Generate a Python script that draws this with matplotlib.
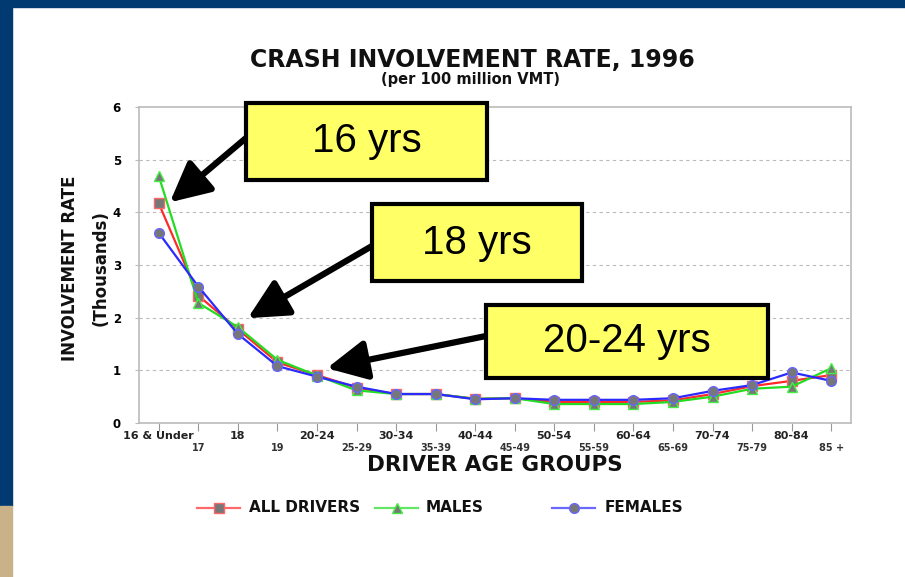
import matplotlib.pyplot as plt
from matplotlib.patches import Rectangle
from matplotlib.lines import Line2D

plt.rcParams['font.family'] = ['DejaVu Sans']

ages = ["16 & Under", "17", "18", "19", "20-24", "25-29", "30-34", "35-39",
        "40-44", "45-49", "50-54", "55-59", "60-64", "65-69", "70-74",
        "75-79", "80-84", "85 +"]
all_drivers = [4.17, 2.42, 1.78, 1.15, 0.91, 0.67, 0.55, 0.55, 0.46, 0.47,
               0.40, 0.40, 0.40, 0.43, 0.55, 0.70, 0.80, 0.91]
males = [4.69, 2.28, 1.82, 1.20, 0.90, 0.62, 0.55, 0.55, 0.46, 0.47,
         0.36, 0.36, 0.36, 0.40, 0.50, 0.65, 0.69, 1.04]
females = [3.61, 2.59, 1.69, 1.08, 0.88, 0.69, 0.55, 0.55, 0.45, 0.47,
           0.44, 0.44, 0.44, 0.47, 0.61, 0.72, 0.96, 0.80]
series_names = ["ALL DRIVERS", "MALES", "FEMALES"]

W, H = 905, 577


def fx(x):
    return x / W


def fy(y):
    return 1 - y / H


fig = plt.figure(figsize=(9.05, 5.77), dpi=100)
fig.patch.set_facecolor("white")

# slide decoration
fig.patches.append(Rectangle((0, fy(7)), 1, 7 / H, transform=fig.transFigure,
                             color="#003A70", zorder=0))
fig.patches.append(Rectangle((0, fy(506)), 12 / W, (506 - 7) / H,
                             transform=fig.transFigure, color="#003A70", zorder=0))
fig.patches.append(Rectangle((0, 0), 12 / W, (577 - 506) / H,
                             transform=fig.transFigure, color="#C9B189", zorder=0))

ax = fig.add_axes([fx(139), fy(423), (851 - 139) / W, (423 - 107) / H])
x = range(len(ages))
styles = [
    (all_drivers, "#FF2A2A", "s", "#FF6666"),
    (males, "#22DD22", "^", "#44EE44"),
    (females, "#2A2AFF", "o", "#6666FF"),
]
for vals, c, m, ec in styles:
    ax.plot(x, vals, color=c, lw=1.6, marker=m, ms=7, mfc="#777777",
            mec=ec, mew=1, zorder=3)

ax.set_xlim(-0.5, len(ages) - 0.5)
ax.set_ylim(0, 6)
ax.set_yticks(range(7))
ax.set_yticklabels([str(i) for i in range(7)], fontsize=8.5, fontweight="bold")
for v in range(1, 6):
    ax.axhline(v, color="#BBBBBB", lw=0.8, ls=(0, (3, 3)), zorder=1)
for s in ax.spines.values():
    s.set_color("#BBBBBB")
    s.set_linewidth(1.2)
ax.tick_params(axis="y", length=3, color="#BBBBBB", pad=10)

ax.set_xticks(list(x))
ax.set_xticklabels([])
ax.tick_params(axis="x", length=6, color="#999999")
tr = ax.get_xaxis_transform()
for i, lab in enumerate(ages):
    if i % 2 == 0:
        ax.text(i, -0.041, lab, ha="center", va="center", fontsize=8,
                transform=tr, fontweight="bold", color="#222222")
    else:
        ax.text(i, -0.079, lab, ha="center", va="center", fontsize=7,
                transform=tr, fontweight="bold", color="#333333")

fig.text(fx(495), fy(465), "DRIVER AGE GROUPS", ha="center", va="center",
         fontsize=15.5, fontweight="bold", color="#111111")
fig.text(fx(70), fy(268), "INVOLVEMENT RATE", ha="center", va="center",
         rotation=90, fontsize=12, fontweight="bold", color="#111111")
fig.text(fx(101), fy(268), "(Thousands)", ha="center", va="center",
         rotation=90, fontsize=12, fontweight="bold", color="#111111")

fig.text(fx(472), fy(60), "CRASH INVOLVEMENT RATE, 1996", ha="center",
         va="center", fontsize=17, fontweight="bold", color="#111111")
fig.text(fx(470), fy(80), "(per 100 million VMT)", ha="center", va="center",
         fontsize=10.5, fontweight="bold", color="#111111")

# legend
leg_items = [(197, 240, 249), (375, 418, 426), (552, 595, 605)]
for (l0, l1, tx), (vals, c, m, ec), name in zip(leg_items, styles, series_names):
    fig.add_artist(Line2D([fx(l0), fx(l1)], [fy(508), fy(508)], color=c,
                          lw=1.6, alpha=0.7, transform=fig.transFigure))
    fig.add_artist(Line2D([fx((l0 + l1) / 2)], [fy(508)], marker=m, ms=7,
                          mfc="#777777", mec=ec, transform=fig.transFigure))
    fig.text(fx(tx), fy(508), name, ha="left", va="center", fontsize=11,
             fontweight="bold", color="#111111")

# callout boxes with arrows
boxes = [
    ((246, 103, 487, 180), "16 yrs", (0.28, 4.19), (246, 138)),
    ((372, 204, 582, 281), "18 yrs", (2.25, 1.99), (372, 246)),
    ((486, 305, 768, 378), "20-24 yrs", (4.25, 1.04), (486, 336)),
]
for (bx0, by0, bx1, by1), txt, tip, (sx, sy) in boxes:
    fig.patches.append(Rectangle((fx(bx0), fy(by1)), (bx1 - bx0) / W,
                                 (by1 - by0) / H, transform=fig.transFigure,
                                 facecolor="#FFFF66", edgecolor="black",
                                 lw=3, zorder=10))
    fig.text(fx((bx0 + bx1) / 2), fy((by0 + by1) / 2), txt, ha="center",
             va="center", fontsize=29, family="Liberation Sans", zorder=11)
    ax.annotate("", xy=tip, xycoords="data",
                xytext=(fx(sx), fy(sy)), textcoords="figure fraction",
                arrowprops=dict(arrowstyle="-|>,head_length=1.1,head_width=0.55",
                                lw=4.5, color="black", shrinkA=0, shrinkB=0,
                                mutation_scale=22),
                annotation_clip=False, zorder=9)

fig.savefig("out.png", dpi=100)
